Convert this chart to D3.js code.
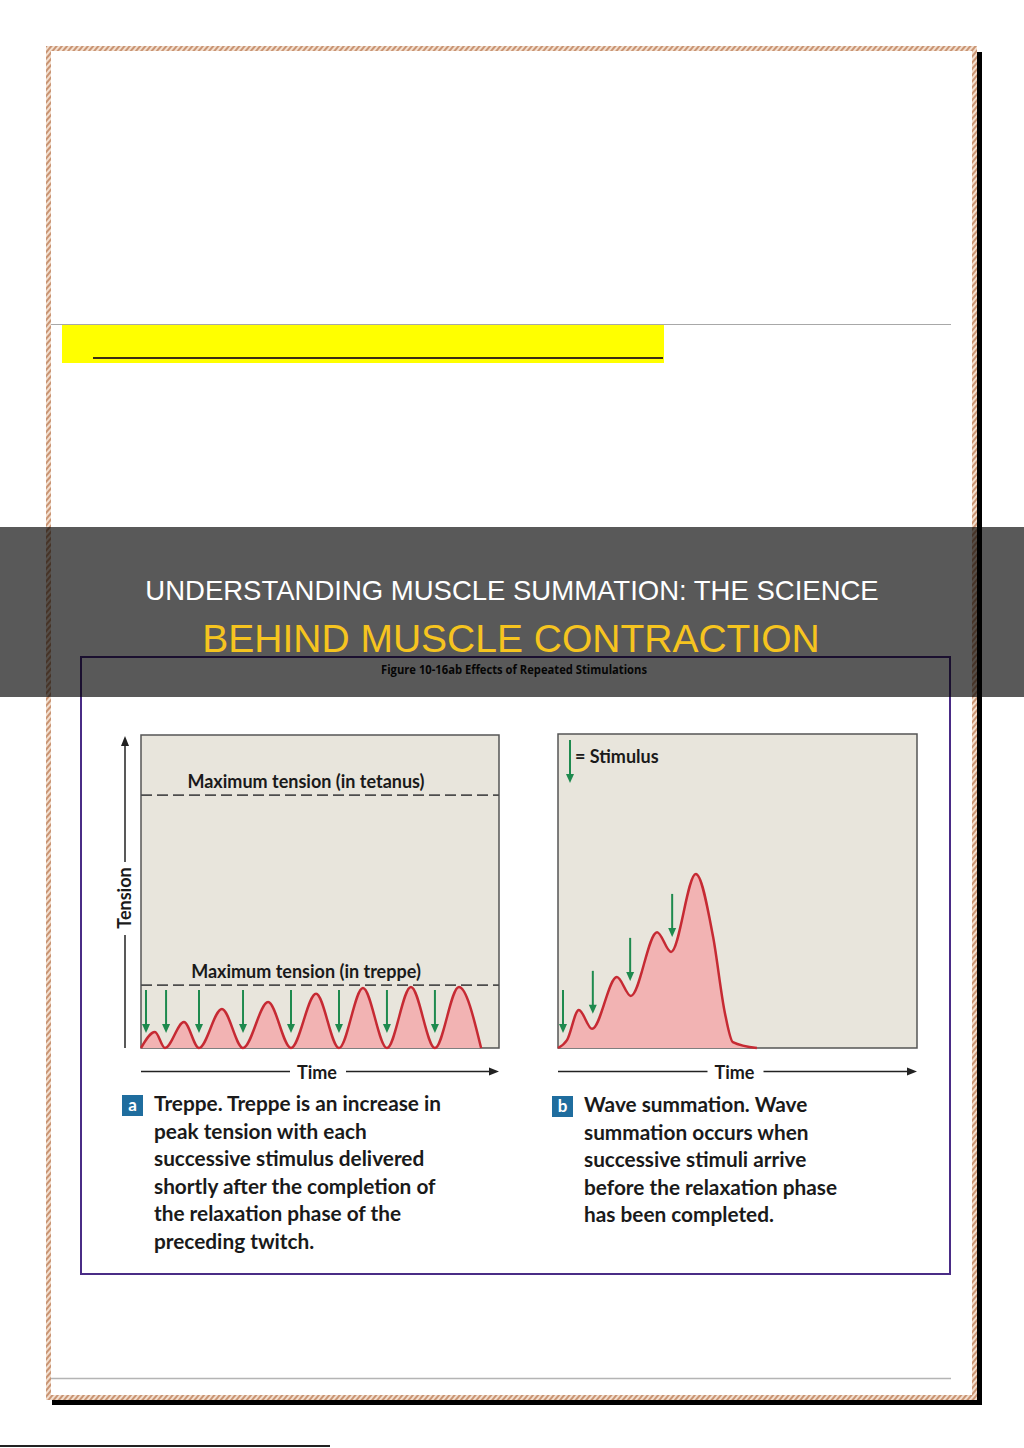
<!DOCTYPE html>
<meta charset="utf-8">
<style>
body { margin: 0; background: #fff; }
svg { display: block; }
.bold { font-family: Lato, "Open Sans", sans-serif; font-weight: 700; fill: #1a1a1a; }
</style>
<svg width="1024" height="1448"></svg>
<script src="https://d3js.org/d3.v7.min.js"></script>
<script>

// panel a - treppe (time / tension, 0..100 units)
var trepTime    = [0, 3.9, 6.7, 12.0, 16.2, 22.6, 28.5, 35.5, 41.9, 48.9, 55.3, 62.0, 68.7, 75.4, 82.1, 88.8, 95.0];
var trepTension = [0, 5.1, 0,   8.3,  0,    12.5, 0,    14.7, 0,    17.3, 0,    19.2, 0,    19.5, 0,    19.5, 0];
var trepStimTime    = [1.4, 7.0, 16.2, 28.5, 41.9, 55.3, 68.7, 82.1];
var trepStimTension = [0, 0, 0, 0, 0, 0, 0, 0];
var maxLabels = ["Maximum tension (in tetanus)", "Maximum tension (in treppe)"];
var maxValues = [80.8, 20.1];

// panel b - wave summation
var sumTime    = [0, 2.5, 5.8, 9.5, 16.4, 20.3, 27.6, 31.5, 38.4, 43.2, 46.5, 48.7, 55.4];
var sumTension = [0, 2.5, 12.1, 6.1, 22.6, 16.6, 36.9, 30.6, 55.4, 35.4, 11.1, 1.9, 0];
var sumStimTime    = [1.4, 9.7, 20.1, 31.8];
var sumStimTension = [0, 6.1, 16.6, 30.6];

var captionA = ["Treppe. Treppe is an increase in", "peak tension with each", "successive stimulus delivered",
                "shortly after the completion of", "the relaxation phase of the", "preceding twitch."];
var captionB = ["Wave summation. Wave", "summation occurs when", "successive stimuli arrive",
                "before the relaxation phase", "has been completed."];

var svg = d3.select("svg");

var defs = svg.append("defs");
var hatch = defs.append("pattern")
    .attr("id", "hatch")
    .attr("patternUnits", "userSpaceOnUse")
    .attr("width", 4).attr("height", 4)
    .attr("patternTransform", "rotate(40)");
hatch.append("rect").attr("width", 4).attr("height", 4).attr("fill", "#f3dfcf");
hatch.append("rect").attr("width", 2).attr("height", 4).attr("fill", "#c99473");

// page frame + shadow
svg.append("rect").attr("x", 977).attr("y", 52).attr("width", 5).attr("height", 1353).attr("fill", "#000");
svg.append("rect").attr("x", 52).attr("y", 1400).attr("width", 930).attr("height", 5).attr("fill", "#000");
svg.append("rect")
    .attr("x", 48.5).attr("y", 48.5).attr("width", 926).attr("height", 1349)
    .attr("fill", "none").attr("stroke", "url(#hatch)").attr("stroke-width", 5);

svg.append("line").attr("x1", 51).attr("x2", 951).attr("y1", 324.5).attr("y2", 324.5)
    .attr("stroke", "#a8a8a8").attr("stroke-width", 1);
svg.append("rect").attr("x", 62).attr("y", 325).attr("width", 602).attr("height", 38).attr("fill", "#ffff00");
svg.append("line").attr("x1", 93).attr("x2", 663).attr("y1", 358).attr("y2", 358)
    .attr("stroke", "#3b2e14").attr("stroke-width", 2);
svg.append("line").attr("x1", 51).attr("x2", 951).attr("y1", 1378.5).attr("y2", 1378.5)
    .attr("stroke", "#b4b4b4").attr("stroke-width", 1.5);
svg.append("rect").attr("x", 0).attr("y", 1445).attr("width", 330).attr("height", 2).attr("fill", "#222");

// figure box
svg.append("rect")
    .attr("x", 81).attr("y", 657).attr("width", 869).attr("height", 617)
    .attr("fill", "#fff").attr("stroke", "#4a2c86").attr("stroke-width", 2);
svg.append("text")
    .attr("x", 514).attr("y", 674)
    .attr("text-anchor", "middle")
    .style("font-family", "'Open Sans', sans-serif").style("font-weight", 700)
    .style("font-size", "12px").attr("fill", "#111")
    .attr("textLength", 266).attr("lengthAdjust", "spacingAndGlyphs")
    .text("Figure 10-16ab  Effects of Repeated Stimulations");

function arrowDown(g, cx, tipY, len, color, w) {
  g.append("line")
      .attr("x1", cx).attr("x2", cx)
      .attr("y1", tipY - len).attr("y2", tipY - 6)
      .attr("stroke", color).attr("stroke-width", w);
  g.append("path")
      .attr("d", "M" + (cx - 4) + "," + (tipY - 9) + "L" + (cx + 4) + "," + (tipY - 9) + "L" + cx + "," + tipY + "Z")
      .attr("fill", color);
}

function timeAxis(g, x0, x1, yy, cx) {
  g.append("line").attr("x1", x0).attr("x2", cx - 27).attr("y1", yy).attr("y2", yy)
      .attr("stroke", "#222").attr("stroke-width", 1.5);
  g.append("line").attr("x1", cx + 29).attr("x2", x1 - 6).attr("y1", yy).attr("y2", yy)
      .attr("stroke", "#222").attr("stroke-width", 1.5);
  g.append("path")
      .attr("d", "M" + x1 + "," + yy + "L" + (x1 - 10) + "," + (yy - 4) + "L" + (x1 - 10) + "," + (yy + 4) + "Z")
      .attr("fill", "#222");
  g.append("text").attr("class", "bold")
      .attr("x", cx).attr("y", yy + 7)
      .attr("text-anchor", "middle")
      .style("font-size", "18px")
      .text("Time");
}

function drawPanel(box, times, tensions, stimT, stimV) {
  var g = svg.append("g");
  var x = d3.scaleLinear().domain([0, 100]).range([box.left, box.right]);
  var y = d3.scaleLinear().domain([0, 100]).range([box.bottom, box.top]);
  var pts = d3.zip(times, tensions);

  g.append("rect")
      .attr("x", box.left).attr("y", box.top)
      .attr("width", box.right - box.left).attr("height", box.bottom - box.top)
      .attr("fill", "#e8e5dc").attr("stroke", "#555").attr("stroke-width", 1.5);

  var area = d3.area()
      .x(function(d) { return x(d[0]); })
      .y0(y(0))
      .y1(function(d) { return y(d[1]); })
      .curve(d3.curveMonotoneX);
  var line = d3.line()
      .x(function(d) { return x(d[0]); })
      .y(function(d) { return y(d[1]); })
      .curve(d3.curveMonotoneX);

  g.append("path").datum(pts).attr("d", area).attr("fill", "#f2b3b3");
  g.append("path").datum(pts).attr("d", line)
      .attr("fill", "none").attr("stroke", "#c62a33").attr("stroke-width", 2.5);

  d3.zip(stimT, stimV).forEach(function(s) {
    arrowDown(g, x(s[0]), y(s[1]) - 15, 43, "#1e8a4e", 2);
  });

  timeAxis(g, box.left, box.right, box.bottom + 23.5, (box.left + box.right) / 2 - 3);
  return { g: g, x: x, y: y };
}

// panel a
var pa = drawPanel({ left: 141, right: 499, top: 735, bottom: 1048 },
                   trepTime, trepTension, trepStimTime, trepStimTension);

maxValues.forEach(function(v, i) {
  pa.g.append("line")
      .attr("x1", 141).attr("x2", 499)
      .attr("y1", pa.y(v)).attr("y2", pa.y(v))
      .attr("stroke", "#4d4d4d").attr("stroke-width", 1.8)
      .attr("stroke-dasharray", "11,5");
  pa.g.append("text").attr("class", "bold")
      .attr("x", 306).attr("y", pa.y(v) - 7)
      .attr("text-anchor", "middle")
      .style("font-size", "18px")
      .text(maxLabels[i]);
});

// tension axis
pa.g.append("line").attr("x1", 125).attr("x2", 125).attr("y1", 1048).attr("y2", 935)
    .attr("stroke", "#222").attr("stroke-width", 1.5);
pa.g.append("line").attr("x1", 125).attr("x2", 125).attr("y1", 862).attr("y2", 744)
    .attr("stroke", "#222").attr("stroke-width", 1.5);
pa.g.append("path").attr("d", "M125,736L121,746L129,746Z").attr("fill", "#222");
pa.g.append("text").attr("class", "bold")
    .attr("transform", "translate(131,898) rotate(-90)")
    .attr("text-anchor", "middle")
    .style("font-size", "18px")
    .text("Tension");

// panel b
var pb = drawPanel({ left: 558, right: 917, top: 734, bottom: 1048 },
                   sumTime, sumTension, sumStimTime, sumStimTension);
arrowDown(pb.g, 570, 783, 43, "#1e8a4e", 2);
pb.g.append("text").attr("class", "bold")
    .attr("x", 575).attr("y", 763)
    .style("font-size", "18px")
    .text("= Stimulus");

// captions
function caption(x0, y0, letter, lines) {
  var g = svg.append("g");
  g.append("rect").attr("x", x0).attr("y", y0).attr("width", 21).attr("height", 21).attr("fill", "#1f6d9e");
  g.append("text")
      .attr("x", x0 + 10.5).attr("y", y0 + 16)
      .attr("text-anchor", "middle")
      .style("font-family", "Lato, sans-serif").style("font-weight", 700)
      .style("font-size", "17px").attr("fill", "#fff")
      .text(letter);
  g.selectAll("text.cap")
      .data(lines)
      .enter().append("text")
      .attr("class", "cap bold")
      .attr("x", x0 + 32)
      .attr("y", function(d, i) { return y0 + 16 + i * 27.5; })
      .style("font-size", "20.8px")
      .text(function(d) { return d; });
}
caption(122, 1095, "a", captionA);
caption(552, 1096, "b", captionB);

// title banner
svg.append("rect").attr("x", 0).attr("y", 527).attr("width", 1024).attr("height", 170)
    .attr("fill", "#000").attr("fill-opacity", 0.65);
svg.append("text")
    .attr("x", 512).attr("y", 600)
    .attr("text-anchor", "middle")
    .style("font-family", "'Liberation Sans', Arial, sans-serif")
    .style("font-size", "27.5px").attr("fill", "#fff")
    .text("UNDERSTANDING MUSCLE SUMMATION: THE SCIENCE");
svg.append("text")
    .attr("x", 511).attr("y", 652)
    .attr("text-anchor", "middle")
    .style("font-family", "'Liberation Sans', Arial, sans-serif")
    .style("font-size", "39px").attr("fill", "#f6c41f")
    .text("BEHIND MUSCLE CONTRACTION");

</script>
